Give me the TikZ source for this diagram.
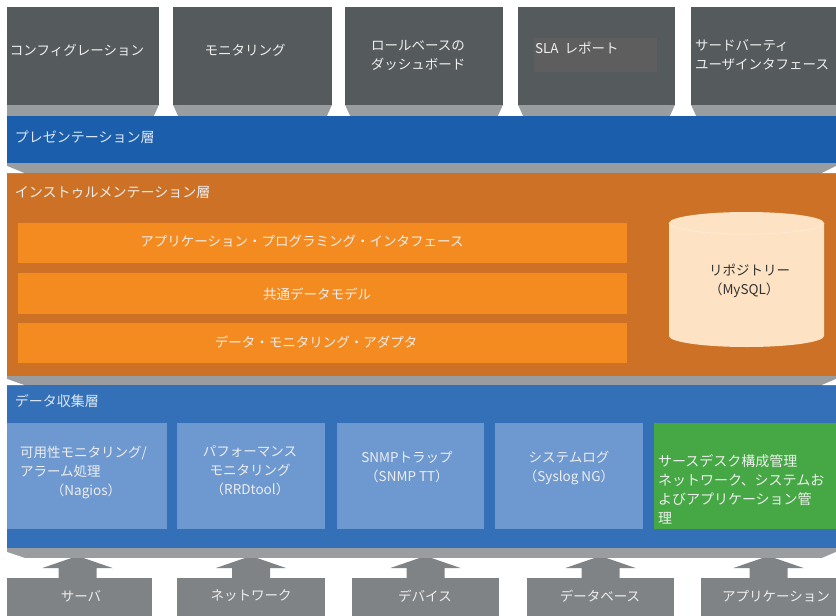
\documentclass[tikz,border=0pt]{standalone}
\usepackage{fontspec}
\setmainfont{Noto Sans CJK JP}
\usetikzlibrary{calc}
\definecolor{boxgray}{HTML}{555A5C}
\definecolor{stripgray}{HTML}{9A9D9F}
\definecolor{presblue}{HTML}{1B5EAB}
\definecolor{instorange}{HTML}{CC7125}
\definecolor{barorange}{HTML}{F48B20}
\definecolor{peach}{HTML}{FEE2C4}
\definecolor{peachline}{HTML}{FFEBD6}
\definecolor{datablue}{HTML}{3370B8}
\definecolor{modblue}{HTML}{6E98D0}
\definecolor{modgreen}{HTML}{45A845}
\definecolor{srcgray}{HTML}{808386}
\definecolor{txtlight}{HTML}{EEEEEE}
\definecolor{titlelight}{HTML}{DDE6F2}
\definecolor{slagray}{HTML}{5F5E5E}
\definecolor{darktext}{HTML}{333333}
\tikzset{
  base/.style={inner sep=0pt, outer sep=0pt, draw=none, anchor=north west},
  topbox/.style={base, fill=boxgray, minimum height=98},
  layer/.style={base, minimum width=829},
  barbox/.style={base, fill=barorange, minimum width=609},
  modbox/.style={base, fill=modblue, minimum height=106},
  srcbox/.style={base, fill=srcgray, minimum height=38, text=txtlight, font=\fontsize{13.5}{19}\selectfont},
  lbl/.style={inner sep=0pt, outer sep=0pt, text=txtlight, font=\fontsize{13.5}{19}\selectfont},
  ttl/.style={lbl, anchor=west, text=titlelight, font=\fontsize{14}{19}\selectfont},
}
\begin{document}
\begin{tikzpicture}[x=1pt,y=-1pt]
\useasboundingbox (0,0) rectangle (836,616);
\fill[white] (0,0) rectangle (836,616);

% ---- top boxes
\node[topbox, minimum width=152] (t1) at (7,7) {};
\node[topbox, minimum width=159] (t2) at (173,7) {};
\node[topbox, minimum width=158] (t3) at (345,7) {};
\node[topbox, minimum width=157] (t4) at (518,7) {};
\node[topbox, minimum width=145] (t5) at (691,7) {};
\node[base, fill=slagray, minimum width=123, minimum height=34] (sla) at (534,38) {};

\node[lbl] (t1l) at (77,50) {コンフィグレーション};
\node[lbl] (t2l) at (245,50) {モニタリング};
\node[lbl, align=center] (t3l) at (418,55) {ロールベースの\\ダッシュボード};
\node[lbl, anchor=west] (t4l) at (535,48) {SLA\ \ レポート};
\node[lbl, anchor=west, align=left] (t5l) at (695,55) {サードバーティ\\ユーザインタフェース};

% ---- strip under top boxes
\fill[stripgray] (t1.south west) rectangle ($(t5.south east)+(0,11)$);
\foreach \a/\b in {t1/t2,t2/t3,t3/t4,t4/t5}{
  \fill[white] (\a.south east) -- (\b.south west) -- ($(\b.south west)+(5,11)$) -- ($(\a.south east)+(-5,11)$) -- cycle;
}

% ---- presentation layer
\node[layer, fill=presblue, minimum height=47] (pres) at (7,116) {};
\node[ttl] (presl) at (15,137) {プレゼンテーション層};

% ---- instrumentation layer
\node[layer, fill=instorange, minimum height=203] (inst) at (7,173) {};
\node[ttl, text=txtlight] (instl) at (15,193) {インストゥルメンテーション層};
\node[barbox, minimum height=40] (api) at (18,223) {};
\node[barbox, minimum height=41] (cdm) at (18,273) {};
\node[barbox, minimum height=40] (dma) at (18,323) {};
\node[lbl] (apil) at (302,241) {アプリケーション・プログラミング・インタフェース};
\node[lbl] (cdml) at (317,294) {共通データモデル};
\node[lbl] (dmal) at (316,342) {データ・モニタリング・アダプタ};

% repository cylinder
\fill[peach] (669,223) -- (669,336) arc[start angle=180, end angle=0, x radius=77.5, y radius=11]
  -- (824,223) arc[start angle=0, end angle=-180, x radius=77.5, y radius=11] -- cycle;
\draw[peachline, line width=0.8pt] (669,223) arc[start angle=180, end angle=0, x radius=77.5, y radius=11];
\node[lbl, anchor=west, align=left, text=darktext] (repo) at (709,281) {リポジトリー\\（MySQL）};

% ---- data collection layer
\node[layer, fill=datablue, minimum height=163] (data) at (7,385) {};
\node[ttl] (datal) at (15,401) {データ収集層};
\node[modbox, minimum width=160] (m1) at (7,423) {};
\node[modbox, minimum width=148] (m2) at (177,423) {};
\node[modbox, minimum width=147] (m3) at (337,423) {};
\node[modbox, minimum width=148] (m4) at (495,423) {};
\node[modbox, fill=modgreen, minimum width=182] (m5) at (654,423) {};
\node[lbl, anchor=west, align=left] (m1l) at (20,461.5) {可用性モニタリング/\\アラーム処理};
\node[lbl] (m1n) at (86,491) {（Nagios）};
\node[lbl, align=center] (m2l) at (250,471) {パフォーマンス\\モニタリング\\（RRDtool）};
\node[lbl, align=center] (m3l) at (407,467.5) {SNMPトラップ\\（SNMP TT）};
\node[lbl, align=center] (m4l) at (569,468) {システムログ\\（Syslog NG）};
\node[lbl, anchor=west, align=left, font=\fontsize{14}{19}\selectfont] (m5l) at (658,489) {サースデスク構成管理\\ネットワーク、システムお\\よびアプリケーション管\\理};

% ---- strips between layers with white corner wedges
\foreach \u/\l in {pres/inst,inst/data}{
  \fill[stripgray] (\u.south west) rectangle (\l.north east);
  \fill[white] ($(\u.south west)+(0,3)$) -- (\l.north west) -- ($(\l.north west)+(17,0)$) -- cycle;
  \fill[white] ($(\u.south east)+(0,3)$) -- (\l.north east) -- ($(\l.north east)+(-14,0)$) -- cycle;
}
\coordinate (bs) at ($(data.south west)+(0,10)$);
\coordinate (be) at ($(data.south east)+(0,10)$);
\fill[stripgray] (data.south west) rectangle (be);
\fill[white] ($(data.south west)+(0,4)$) -- (bs) -- ($(bs)+(18,0)$) -- cycle;
\fill[white] ($(data.south east)+(0,4)$) -- (be) -- ($(be)+(-14,0)$) -- cycle;

% ---- sources
\node[srcbox, minimum width=145] (s1) at (7,578) {};
\node[srcbox, minimum width=148] (s2) at (177,578) {};
\node[srcbox, minimum width=147] (s3) at (352,578) {};
\node[srcbox, minimum width=147] (s4) at (527,578) {};
\node[srcbox, minimum width=135] (s5) at (701,578) {};
\node[lbl] (s1l) at (81,596) {サーバ};
\node[lbl] (s2l) at (251,596) {ネットワーク};
\node[lbl] (s3l) at (425,596) {デバイス};
\node[lbl] (s4l) at (600,596) {データベース};
\node[lbl] (s5l) at (776,596) {アプリケーション};
\foreach \b/\dx in {s1/-2,s2/0,s3/0,s4/0,s5/0}{
  \fill[srcgray] ($(\b.north)+(\dx-19,1)$) -- ($(\b.north)+(\dx-19,-10)$) -- ($(\b.north)+(\dx-35,-10)$)
    -- ($(\b.north)+(\dx-6,-20)$) -- ($(\b.north)+(\dx+6,-20)$) -- ($(\b.north)+(\dx+35,-10)$)
    -- ($(\b.north)+(\dx+19,-10)$) -- ($(\b.north)+(\dx+19,1)$) -- cycle;
}
\end{tikzpicture}
\end{document}
